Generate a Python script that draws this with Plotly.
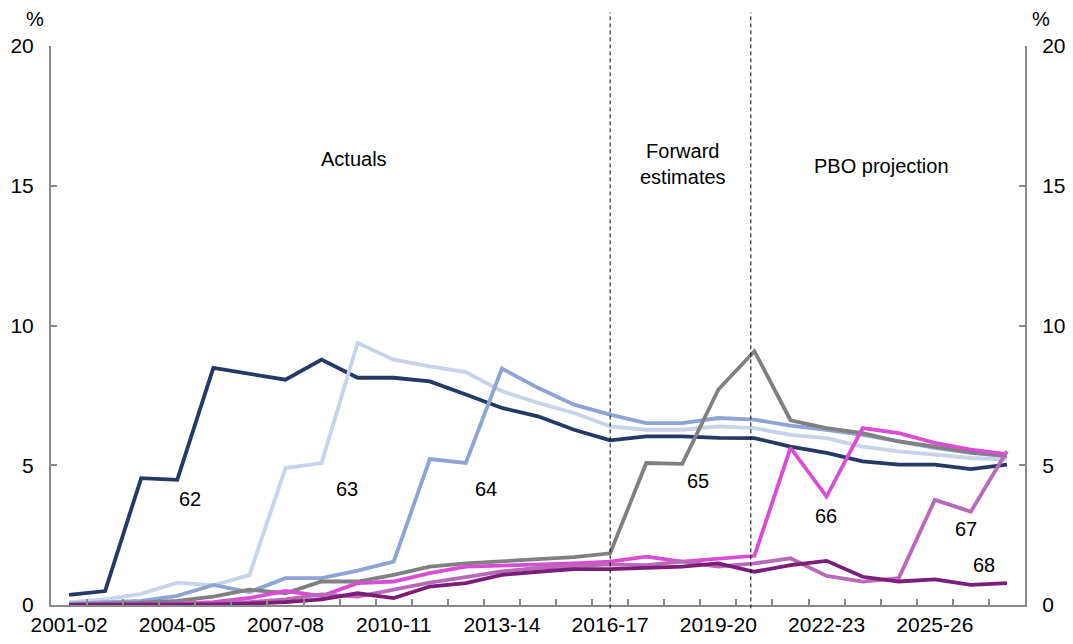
import plotly.graph_objects as go

years = [f"{y}-{str(y+1)[-2:]}" for y in range(2001, 2028)]

s62 = [0.36, 0.5, 4.54, 4.48, 8.48, 8.28, 8.06, 8.78, 8.13, 8.13, 8.0, 7.53, 7.05, 6.75, 6.27, 5.89,
       6.03, 6.03, 5.98, 5.97, 5.67, 5.44, 5.14, 5.02, 5.02, 4.86, 5.02]
s63 = [0.1, 0.2, 0.4, 0.8, 0.7, 1.07, 4.9, 5.08, 9.38, 8.78, 8.54, 8.33, 7.65, 7.23, 6.87, 6.39,
       6.27, 6.27, 6.39, 6.33, 6.09, 5.97, 5.67, 5.5, 5.38, 5.26, 5.2]
s64 = [0.05, 0.1, 0.15, 0.33, 0.72, 0.46, 0.96, 0.96, 1.23, 1.55, 5.22, 5.08, 8.46, 7.77, 7.17, 6.81,
       6.51, 6.51, 6.69, 6.63, 6.42, 6.27, 6.09, 5.85, 5.62, 5.44, 5.32]
s65 = [0.02, 0.05, 0.08, 0.15, 0.3, 0.55, 0.42, 0.84, 0.84, 1.08, 1.37, 1.49, 1.58, 1.64, 1.71, 1.85,
       5.08, 5.05, 7.71, 9.08, 6.61, 6.33, 6.15, 5.85, 5.67, 5.46, 5.34]
s66 = [0.0, 0.0, 0.02, 0.05, 0.1, 0.25, 0.5, 0.32, 0.78, 0.84, 1.14, 1.37, 1.4, 1.43, 1.49, 1.55,
       1.73, 1.55, 1.67, 1.76, 5.62, 3.88, 6.33, 6.15, 5.8, 5.56, 5.4]
s67 = [0.0, 0.0, 0.0, 0.02, 0.05, 0.1, 0.2, 0.38, 0.3, 0.55, 0.8, 1.0, 1.2, 1.33, 1.4, 1.45,
       1.43, 1.55, 1.37, 1.49, 1.67, 1.04, 0.84, 0.96, 3.76, 3.34, 5.5]
s68 = [0.0, 0.0, 0.0, 0.0, 0.02, 0.05, 0.1, 0.2, 0.42, 0.25, 0.66, 0.78, 1.08, 1.19, 1.28, 1.28,
       1.31, 1.37, 1.49, 1.19, 1.43, 1.58, 1.01, 0.84, 0.92, 0.72, 0.78]

series = {"62": s62, "63": s63, "64": s64, "65": s65, "66": s66, "67": s67, "68": s68}
colors = {"62": "#243A64", "63": "#C8D2E9", "64": "#8EA4D2", "65": "#808080",
          "66": "#D94DD5", "67": "#B869B8", "68": "#7A1E7A"}

# label positions (category index, value)
label_pos = {"62": (3.36, 3.8), "63": (7.71, 4.16), "64": (11.57, 4.16), "65": (17.44, 4.44),
             "66": (20.99, 3.19), "67": (24.87, 2.72), "68": (25.37, 1.43)}

FONT = "Liberation Sans, Arial, sans-serif"
AX = "#898989"
TXT = dict(size=20, color="#000000", family=FONT)
TICK = dict(size=21, color="#000000", family=FONT)

fig = go.Figure()
for name, vals in series.items():
    fig.add_trace(go.Scatter(x=years, y=vals, mode="lines", name=name,
                             line=dict(color=colors[name], width=3.8), showlegend=False))
# dummy trace for right axis
fig.add_trace(go.Scatter(x=[years[0]], y=[None], yaxis="y2", showlegend=False, hoverinfo="skip"))

for name, (xi, yv) in label_pos.items():
    fig.add_annotation(x=xi, y=yv, text=name, showarrow=False, xref="x", yref="y", font=TXT)

fig.add_annotation(x=7.91, y=15.95, text="Actuals", showarrow=False, font=TXT)
fig.add_annotation(x=17.03, y=15.77, text="Forward<br>estimates", showarrow=False, font=TXT)
fig.add_annotation(x=22.51, y=15.7, text="PBO projection", showarrow=False, font=TXT)

for cat in ["2016-17", "2020-21"]:
    xi = years.index(cat) - (0.1 if cat == "2020-21" else 0)
    fig.add_shape(type="line", x0=xi, x1=xi, xref="x", yref="paper", y0=-0.006, y1=1.06,
                  line=dict(color="#000000", width=1, dash="4px,3px"))

fig.add_annotation(x=-0.028, y=1.072, xref="paper", yref="paper", text="%", showarrow=False, font=TXT)
fig.add_annotation(x=1.028, y=1.072, xref="paper", yref="paper", text="%", showarrow=False, font=TXT)

yax = dict(range=[0, 20], dtick=5, ticks="inside", ticklen=6, tickwidth=1.5, tickcolor=AX,
           showline=True, linecolor=AX, linewidth=2, showgrid=False, zeroline=False,
           ticklabelstandoff=11, automargin=False, tickfont=TICK)

# page body has an 8px margin, so the figure is sized to fit the 1073x644 window
fig.update_layout(
    width=1065, height=636,
    margin=dict(l=43, r=48, t=38, b=39),
    paper_bgcolor="white", plot_bgcolor="white",
    font=dict(family=FONT, size=20, color="#000000"),
    xaxis=dict(type="category", categoryorder="array", categoryarray=years,
               range=[-0.5, len(years) - 0.5], tickangle=0, automargin=False,
               tickson="boundaries", ticks="inside", ticklen=6, tickwidth=1.5, tickcolor=AX,
               ticklabelstep=3, showline=True, linecolor=AX, linewidth=2,
               showgrid=False, zeroline=False, tickfont=TICK),
    yaxis=yax,
    yaxis2=dict(yax, overlaying="y", side="right"),
)

fig.write_html("out.html")
